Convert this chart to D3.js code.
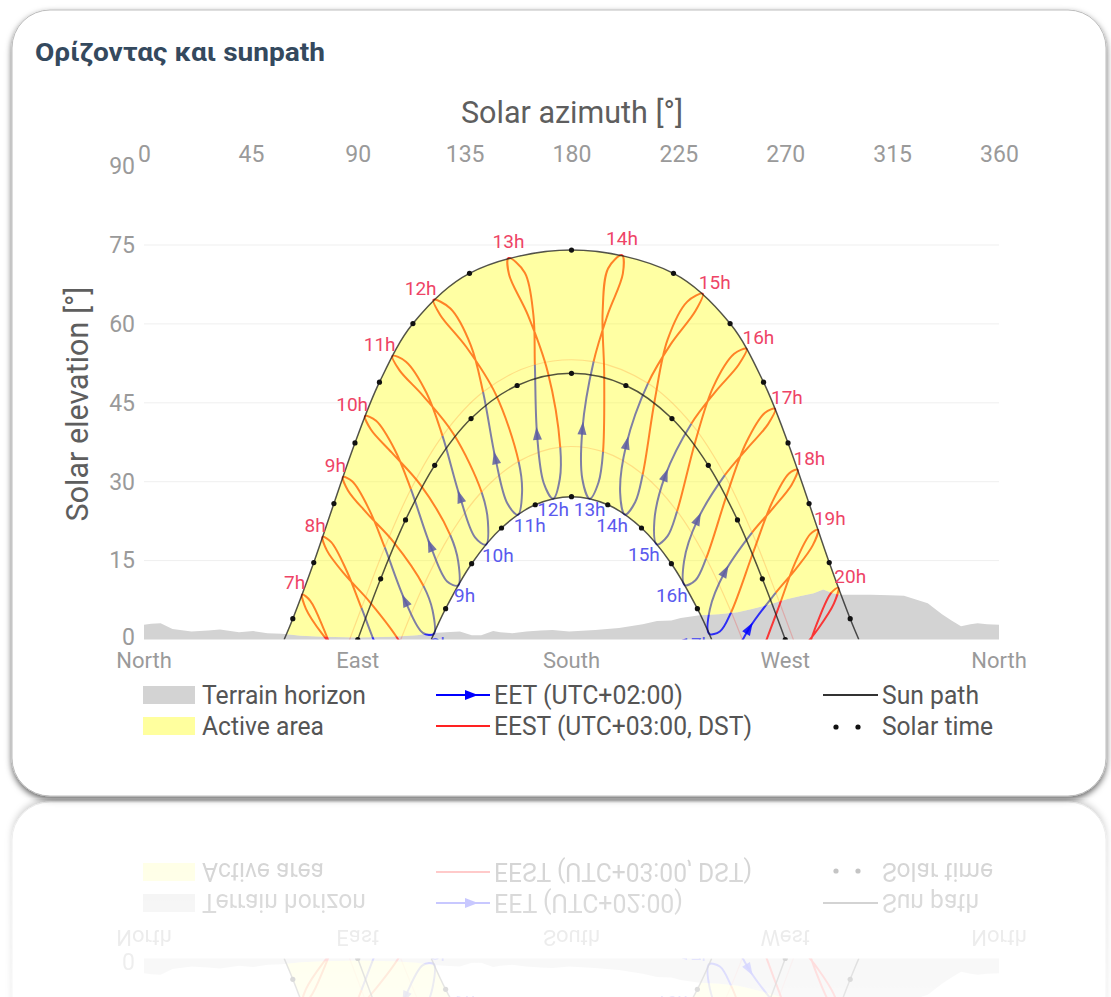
<!DOCTYPE html>
<html><head><meta charset="utf-8">
<script src="https://cdn.jsdelivr.net/npm/d3@7"></script>
<style>
html,body{margin:0;padding:0;background:#fff;}
svg{display:block;}
text{font-family:Roboto,"Noto Sans",sans-serif;}
</style></head><body>
<svg id="chart" width="1111" height="997"></svg>
<script>
// ---------- data ----------
const azimuthTicks = [0,45,90,135,180,225,270,315,360];
const elevationTicks = [0,15,30,45,60,75,90];
const elevationGrid = [15,30,45,60,75];
const compassNames = ["North","East","South","West","North"];
const compassAzimuths = [0,90,180,270,360];

const terrainHorizon = [[0,2.8],[3,3.0],[7,3.1],[12,2.0],[20,1.5],[27,1.7],[32,1.9],[40,1.4],[46,1.6],[52,1.2],[58,1.1],[66,0.7],[75,0.5],[90,0.4],[105,0.5],[115,0.8],[120,1.2],[127,1.4],[133,1.5],[138,0.8],[142,0.8],[147,1.6],[150,1.4],[155,1.2],[161,1.5],[167,1.7],[172,1.8],[179,1.5],[190,1.8],[200,2.2],[210,2.9],[216,3.5],[222,3.6],[226,4.1],[234,4.6],[242,4.8],[250,5.2],[256,5.8],[263,6.6],[271,7.7],[276,8.2],[282,8.8],[286,9.5],[290,8.8],[293,8.5],[300,8.5],[306,8.5],[314,8.4],[320,8.3],[325,7.6],[330,6.9],[336,4.8],[340,3.6],[344,2.5],[348,2.9],[351,3.1],[355,2.9],[360,2.8]];

// sun paths [azimuth, elevation]: sunrise, hourly solar time points, sunset
const sunPathJune = [[59.02,0],[62.66,3.95],[71.48,14.62],[79.97,25.85],[88.83,37.37],[99.14,48.92],[113.23,60.06],[137.05,69.61],[180,74.04],[222.95,69.61],[246.77,60.06],[260.86,48.92],[271.17,37.37],[280.03,25.85],[288.52,14.62],[297.34,3.95],[300.98,0]];
const sunPathEquinox = [[90,0],[99.65,11.54],[110.12,22.73],[122.40,33.12],[137.71,42.01],[157.11,48.29],[180,50.6],[202.89,48.29],[222.29,42.01],[237.60,33.12],[249.88,22.73],[260.35,11.54],[270,0]];
const sunPathDecember = [[120.98,0],[127.00,5.86],[137.94,14.41],[150.53,21.20],[164.73,25.62],[180,27.16],[195.27,25.62],[209.47,21.20],[222.06,14.41],[233.00,5.86],[239.02,0]];

// analemma points per clock hour, dates:
const analemmaDates = ["Jun 21","Jul 21","Aug 21","Sep 21","Oct 30","Nov 21","Dec 21","Jan 21","Feb 21","Mar 27","Apr 21","May 21"];
const ana04 = [[66.62,8.56],[68.19,5.84],[75.03,1.06],[85.55,-4.46],[98.43,-11.76],[102.99,-15.85],[104.24,-20.22],[99.38,-20.68],[91.10,-15.50],[82.01,-5.57],[75.96,1.69],[70.00,7.36]];
const ana05 = [[75.22,19.51],[77.05,16.90],[84.34,12.46],[95.10,7.12],[107.70,-0.48],[111.91,-4.80],[112.82,-9.24],[108.19,-9.43],[100.45,-3.98],[91.56,5.99],[85.26,13.12],[78.82,18.52]];
const ana06 = [[83.78,30.89],[85.88,28.35],[93.83,24.03],[105.12,18.52],[117.64,10.22],[121.49,5.55],[121.99,1.05],[117.42,1.25],[110.09,7.19],[101.38,17.50],[94.82,24.70],[87.76,30.02]];
const ana07 = [[93.09,42.47],[95.53,39.93],[104.44,35.47],[116.49,29.34],[128.90,19.90],[132.30,14.83],[132.24,10.29],[127.65,11.02],[120.74,17.65],[112.37,28.58],[105.58,36.09],[97.71,41.58]];
const ana08 = [[104.65,53.91],[107.45,51.27],[117.60,46.28],[130.40,39.02],[142.14,28.04],[144.79,22.51],[143.98,18.04],[139.38,19.43],[133.16,26.92],[125.68,38.72],[119.03,46.82],[110.30,52.82]];
const ana09 = [[121.92,64.58],[124.72,61.71],[135.71,55.61],[148.12,46.61],[157.73,33.86],[159.18,27.97],[157.40,23.72],[152.96,25.89],[148.03,34.29],[142.76,47.05],[137.60,55.94],[129.02,62.93]];
const ana10 = [[153.49,72.53],[153.71,69.39],[161.61,61.71],[170.05,50.78],[175.26,36.58],[175.09,30.56],[172.24,26.77],[168.30,29.75],[165.51,38.89],[164.58,52.23],[163.96,61.67],[160.34,69.74]];
const ana11 = [[201.26,73.07],[195.40,70.54],[193.11,62.26],[193.77,50.39],[193.28,35.71],[191.40,29.90],[187.66,26.78],[184.58,30.47],[184.58,39.90],[189.32,52.84],[195.23,61.76],[201.62,69.54]];
const ana12 = [[235.28,65.74],[228.76,64.24],[220.42,56.96],[215.08,45.57],[210.00,31.42],[206.79,26.09],[202.51,23.75],[200.48,27.95],[203.11,37.11],[212.21,48.70],[221.80,56.15],[232.16,62.45]];
const ana13 = [[253.69,55.26],[248.50,54.31],[239.70,48.04],[232.09,37.56],[224.46,24.39],[220.43,19.66],[215.93,18.08],[214.89,22.55],[219.39,31.07],[230.45,41.02],[240.56,47.08],[250.44,52.27]];
const ana14 = [[265.68,43.85],[261.48,43.12],[253.52,37.40],[245.51,27.63],[236.68,15.43],[232.20,11.28],[227.68,10.35],[227.40,14.92],[233.02,22.70],[244.56,31.24],[254.11,36.39],[262.84,41.00]];
const ana15 = [[275.17,32.28],[271.57,31.56],[264.44,26.04],[256.59,16.68],[247.24,5.21],[242.46,1.52],[237.94,1.11],[238.23,5.68],[244.50,12.79],[256.01,20.33],[264.91,25.00],[272.71,29.43]];
const ana16 = [[283.76,20.86],[280.53,20.04],[274.05,14.46],[266.48,5.22],[256.77,-5.81],[251.71,-9.15],[247.12,-9.17],[247.83,-4.65],[254.58,1.94],[266.04,8.89],[274.49,13.43],[281.62,17.94]];
const ana17 = [[292.33,9.84],[289.31,8.85],[283.33,3.01],[276.03,-6.35],[265.96,-17.26],[260.53,-20.39],[255.70,-20.15],[256.75,-15.68],[263.99,-9.44],[275.58,-2.68],[283.79,1.99],[290.47,6.81]];
const analemmas = [ana04,ana05,ana06,ana07,ana08,ana09,ana10,ana11,ana12,ana13,ana14,ana15,ana16,ana17];
const eestLabels = ["7h","8h","9h","10h","11h","12h","13h","14h","15h","16h","17h","18h","19h","20h"];
const eetLabels  = ["6h","7h","8h","9h","10h","11h","12h","13h","14h","15h","16h","17h","18h","19h"];

const legendLeft = [["Terrain horizon","terrain",164],["Active area","active",122]];
const legendMid = [["EET (UTC+02:00)","eet",189],["EEST (UTC+03:00, DST)","eest",258]];
const legendRight = [["Sun path","path",97],["Solar time","dots",111]];

// ---------- drawing ----------
const svg = d3.select("#chart");
const defs = svg.append("defs");
const x = d3.scaleLinear().domain([0,360]).range([144,999]);
const y = d3.scaleLinear().domain([0,90]).range([639.5,166.1]);
const RED = "#ff1a1a", BLUE = "#0000ff";

const sh = defs.append("filter").attr("id","cardShadow").attr("x","-5%").attr("y","-5%").attr("width","110%").attr("height","112%");
sh.append("feDropShadow").attr("dx",0).attr("dy",3).attr("stdDeviation",3).attr("flood-color","#000").attr("flood-opacity",0.6);
const bl = defs.append("filter").attr("id","reflBlur");
bl.append("feGaussianBlur").attr("stdDeviation",0.7);

defs.append("clipPath").attr("id","plotClip").append("rect")
  .attr("x",x(0)).attr("y",y(90)).attr("width",x(360)-x(0)).attr("height",y(0)-y(90));
defs.append("clipPath").attr("id","skyClip").append("path")
  .attr("d", d3.area().x(d=>x(d[0])).y0(y(90)).y1(d=>y(d[1]))(terrainHorizon));

const card = svg.append("g").attr("id","card");
card.append("rect").attr("x",12).attr("y",10).attr("width",1094).attr("height",786).attr("rx",38)
  .attr("fill","#fff").attr("stroke","#bdbdbd").attr("filter","url(#cardShadow)");

card.append("text").attr("x",35).attr("y",61).text("Ορίζοντας και sunpath")
  .attr("font-family","'Open Sans',sans-serif").attr("font-weight",700).attr("font-size",26.5)
  .attr("textLength",290).attr("lengthAdjust","spacingAndGlyphs").attr("fill","#34495e");

// grid
card.append("g").selectAll("line").data(elevationGrid).join("line")
  .attr("x1",x(0)).attr("x2",x(360)).attr("y1",d=>y(d)).attr("y2",d=>y(d))
  .attr("stroke","#efefef").attr("stroke-width",1);

// axes
const topAxis = card.append("g").attr("transform","translate(0,162)")
  .call(d3.axisTop(x).tickValues(azimuthTicks).tickSize(0).tickPadding(0));
topAxis.select(".domain").remove();
topAxis.selectAll("text").attr("font-family","Roboto").attr("font-size",23).attr("fill","#9a9a9a");
const leftAxis = card.append("g").attr("transform",`translate(${x(0)},0)`)
  .call(d3.axisLeft(y).tickValues(elevationTicks).tickSize(0).tickPadding(9));
leftAxis.select(".domain").remove();
leftAxis.selectAll("text").attr("font-family","Roboto").attr("font-size",23).attr("fill","#9a9a9a")
  .attr("dy", d => d===0 ? "0.2em" : "0.32em");

card.append("g").selectAll("text").data(compassAzimuths).join("text")
  .attr("x",d=>x(d)).attr("y",668).attr("text-anchor","middle")
  .attr("font-size",22).attr("fill","#9a9a9a").text((d,i)=>compassNames[i]);

card.append("text").attr("x",572).attr("y",123).attr("text-anchor","middle")
  .attr("font-size",30.5).attr("fill","#5e5e5e").text("Solar azimuth [°]");
card.append("text").attr("transform","translate(88,404) rotate(-90)").attr("text-anchor","middle")
  .attr("font-size",30.5).attr("fill","#5e5e5e").text("Solar elevation [°]");

// terrain
card.append("path").attr("d", d3.area().x(d=>x(d[0])).y0(y(0)).y1(d=>y(d[1]))(terrainHorizon))
  .attr("fill","#d3d3d3");

const plot = card.append("g").attr("clip-path","url(#plotClip)");
const lineOpen = d3.line().x(d=>x(d[0])).y(d=>y(d[1])).curve(d3.curveCatmullRom.alpha(0.5));
const lineClosed = d3.line().x(d=>x(d[0])).y(d=>y(d[1])).curve(d3.curveCatmullRomClosed.alpha(0.5));

// DST boundary days (faint)
[9,4].forEach(k=>{
  plot.append("path").attr("d", lineOpen(analemmas.map(a=>a[k])))
    .attr("fill","none").attr("stroke",RED).attr("stroke-opacity",0.22).attr("stroke-width",1.2);
});

function nearestLength(node, px, py, total){
  let best=0, bd=Infinity;
  for(let l=0;l<=total;l+=2){const p=node.getPointAtLength(l);const d=(p.x-px)**2+(p.y-py)**2;if(d<bd){bd=d;best=l;}}
  const lo=Math.max(0,best-2), hi=Math.min(total,best+2);
  for(let l=lo;l<=hi;l+=0.2){const p=node.getPointAtLength(l);const d=(p.x-px)**2+(p.y-py)**2;if(d<bd){bd=d;best=l;}}
  return best;
}
// order starting so that the closed path begins at Mar 27
const order = [8,9,10,11,0,1,2,3,4,5,6,7];
analemmas.forEach(a=>{
  const d = lineClosed(order.map(k=>a[k]));
  const tmp = plot.append("path").attr("d",d).attr("fill","none").attr("stroke","none");
  const node = tmp.node(); const total = node.getTotalLength();
  const lOct = nearestLength(node, x(a[4][0]), y(a[4][1]), total);
  const lFeb = nearestLength(node, x(a[8][0]), y(a[8][1]), total);
  plot.append("path").attr("d",d).attr("fill","none").attr("stroke",RED).attr("stroke-opacity",0.85)
    .attr("stroke-width",2).attr("stroke-dasharray",`${lOct} ${total+10}`);
  plot.append("path").attr("d",d).attr("fill","none").attr("stroke",BLUE).attr("stroke-opacity",0.78)
    .attr("stroke-width",2).attr("stroke-dasharray",`0 ${lOct} ${total-lOct+10} 0`);
  const p0 = node.getPointAtLength(Math.max(0,lFeb-3)), p1 = node.getPointAtLength(Math.min(total,lFeb+3));
  const pc = node.getPointAtLength(lFeb);
  let dx=p1.x-p0.x, dy=p1.y-p0.y; const n=Math.hypot(dx,dy)||1; dx/=n; dy/=n;
  const tip=[pc.x+dx*8,pc.y+dy*8], bc=[pc.x-dx*5,pc.y-dy*5];
  plot.append("path").attr("d",`M${tip[0]},${tip[1]}L${bc[0]-dy*4.5},${bc[1]+dx*4.5}L${bc[0]+dy*4.5},${bc[1]-dx*4.5}Z`)
    .attr("fill",BLUE).attr("fill-opacity",0.85);
});

// active area (yellow, above terrain)
const activeD = lineOpen(sunPathJune) + lineOpen(sunPathDecember.slice().reverse()).replace(/^M/,"L") + "Z";
card.append("g").attr("clip-path","url(#skyClip)").append("path").attr("d",activeD)
  .attr("fill","#ffff00").attr("fill-opacity",0.36);

// sun paths + solar time dots
const paths = card.append("g").attr("clip-path","url(#plotClip)");
[sunPathJune,sunPathEquinox,sunPathDecember].forEach(p=>{
  paths.append("path").attr("d",lineOpen(p)).attr("fill","none").attr("stroke","#1a1a1a")
    .attr("stroke-opacity",0.75).attr("stroke-width",1.5);
});
const dots = sunPathJune.slice(1,-1).concat(sunPathEquinox, sunPathDecember.slice(1,-1));
paths.selectAll("circle").data(dots).join("circle").attr("cx",d=>x(d[0])).attr("cy",d=>y(d[1]))
  .attr("r",2.6).attr("fill","#111");

// hour labels
const labels = card.append("g").attr("clip-path","url(#plotClip)").attr("font-size",19);
analemmas.forEach((a,i)=>{
  const j=a[0]; const az=j[0];
  const anchor = az<150?"end":(az<=210?"middle":"start");
  labels.append("text").attr("x",x(az)+(anchor==="end"?3:anchor==="start"?-4:0))
    .attr("y",y(j[1])+(anchor==="middle"?-10:-5)).attr("text-anchor",anchor)
    .attr("fill","#ee4466").text(eestLabels[i]);
  const w=a[6];
  if(w[1]>0){
    const azw=w[0];
    const an = azw<170?"start":(azw<=195?"middle":"end");
    labels.append("text").attr("x",x(azw)+(an==="start"?-4:an==="end"?3:0)).attr("y",y(w[1])+17)
      .attr("text-anchor",an).attr("fill","#5a5aee").text(eetLabels[i]);
  }
});

// legend
const lg = card.append("g").attr("font-size",25).attr("fill","#555");
const rowY=[695,726];
function legendText(xp, yp, d){
  lg.append("text").attr("x",xp).attr("y",yp+9).attr("textLength",d[2]).attr("lengthAdjust","spacingAndGlyphs").text(d[0]);
}
legendLeft.forEach((d,i)=>{
  lg.append("rect").attr("x",143).attr("y",rowY[i]-9).attr("width",52).attr("height",18)
    .attr("fill", d[1]==="terrain"?"#d3d3d3":"#ffff9e");
  legendText(202,rowY[i],d);
});
legendMid.forEach((d,i)=>{
  const c = d[1]==="eet"?"#0000ff":"#ff2222";
  lg.append("line").attr("x1",436).attr("x2",490).attr("y1",rowY[i]).attr("y2",rowY[i]).attr("stroke",c).attr("stroke-width",2);
  if(d[1]==="eet") lg.append("path").attr("d",`M478,${rowY[i]}L465,${rowY[i]-5}L465,${rowY[i]+5}Z`).attr("fill",c);
  legendText(494,rowY[i],d);
});
legendRight.forEach((d,i)=>{
  if(d[1]==="path") lg.append("line").attr("x1",823).attr("x2",878).attr("y1",rowY[i]).attr("y2",rowY[i]).attr("stroke","#333").attr("stroke-width",2);
  else [836,858].forEach(cx=>lg.append("circle").attr("cx",cx).attr("cy",rowY[i]+1).attr("r",2.6).attr("fill","#111"));
  legendText(882,rowY[i],d);
});

// reflection
const fade = defs.append("linearGradient").attr("id","reflFade").attr("gradientUnits","userSpaceOnUse")
  .attr("x1",0).attr("y1",799).attr("x2",0).attr("y2",997);
fade.append("stop").attr("offset",0).attr("stop-color","#fff").attr("stop-opacity",0.3);
fade.append("stop").attr("offset",1).attr("stop-color","#fff").attr("stop-opacity",0.14);
const mask = defs.append("mask").attr("id","reflMask").attr("maskUnits","userSpaceOnUse")
  .attr("x",0).attr("y",0).attr("width",1111).attr("height",997);
mask.append("rect").attr("x",0).attr("y",799).attr("width",1111).attr("height",198).attr("fill","url(#reflFade)");
svg.append("g").attr("mask","url(#reflMask)").append("use").attr("href","#card")
  .attr("transform","matrix(1 0 0 -1 0 1598)").attr("filter","url(#reflBlur)");
</script></body></html>
